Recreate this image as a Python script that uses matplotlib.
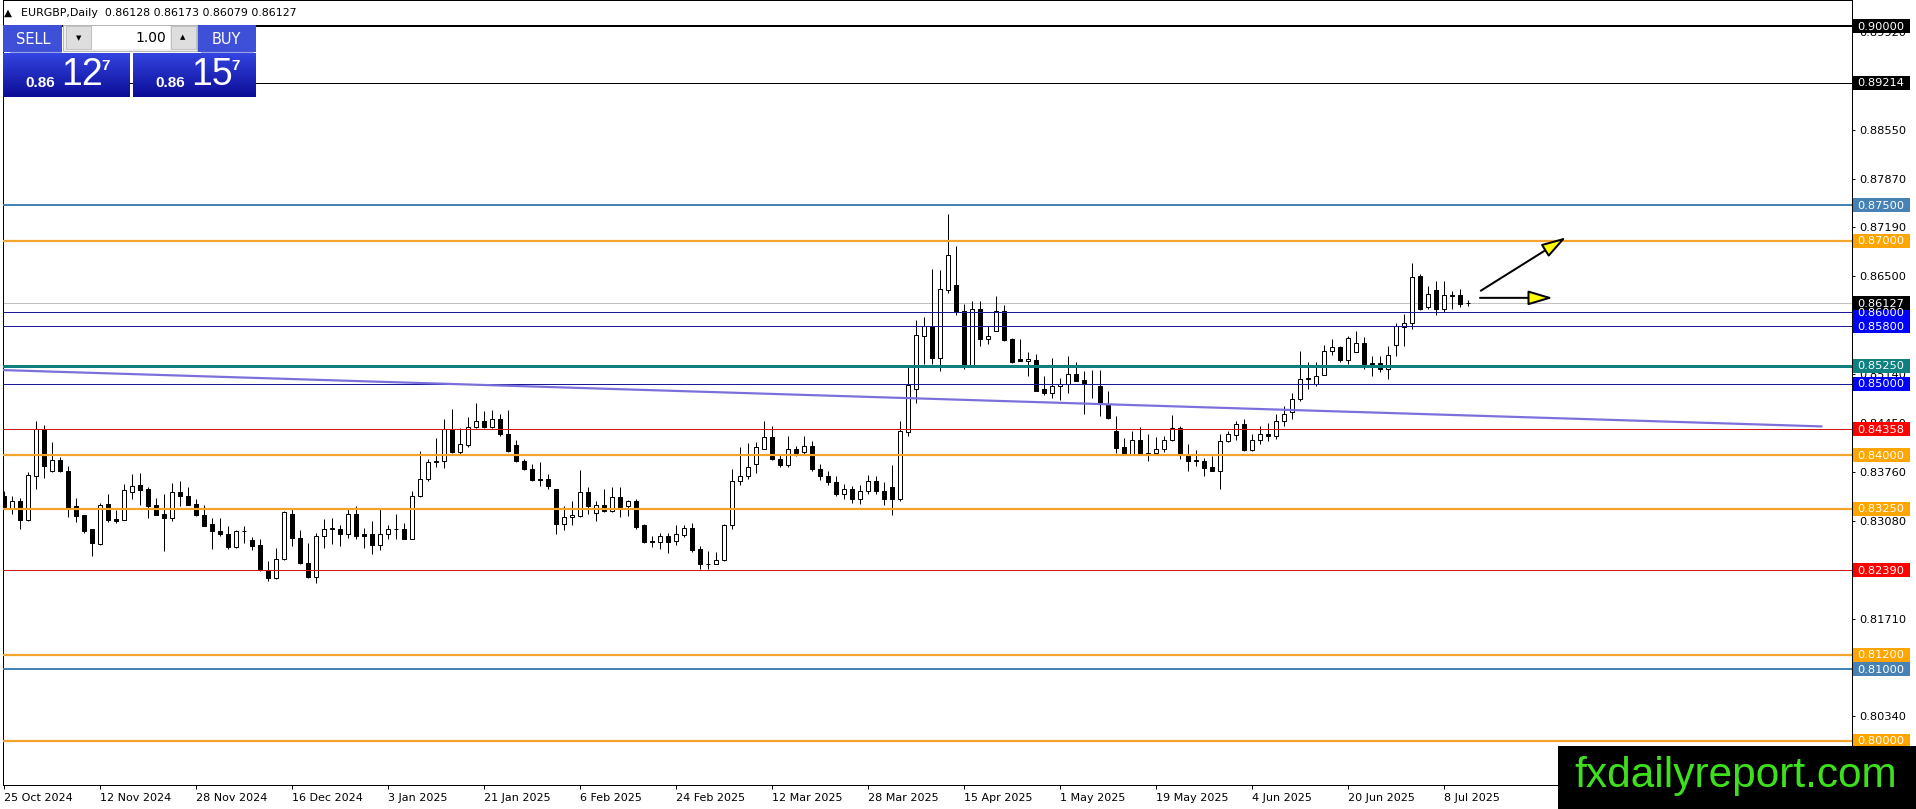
import numpy as np
import matplotlib
matplotlib.use('Agg')
import matplotlib.pyplot as plt
from matplotlib.patches import Rectangle
from matplotlib.colors import LinearSegmentedColormap

plt.rcParams['font.family'] = ['DejaVu Sans']

W, H = 1916, 809

# daily EURGBP candles, 25 Oct 2024 .. 11 Jul 2025
opens = [0.8342, 0.8324, 0.8335, 0.8309, 0.8371, 0.8436, 0.8377, 0.8393, 0.8378, 0.8328,
         0.8316, 0.8296, 0.8275, 0.8331, 0.8310, 0.8309, 0.8348, 0.8358, 0.8352, 0.8330,
         0.8317, 0.8312, 0.8348, 0.8342, 0.8331, 0.8316, 0.8303, 0.8293, 0.8290, 0.8271,
         0.8294, 0.8281, 0.8274, 0.8239, 0.8228, 0.8254, 0.8317, 0.8284, 0.8249, 0.8229,
         0.8286, 0.8296, 0.8297, 0.8290, 0.8317, 0.8289, 0.8289, 0.8274, 0.8290, 0.8296,
         0.8296, 0.8283, 0.8343, 0.8366, 0.8390, 0.8391, 0.8436, 0.8404, 0.8414, 0.8439,
         0.8448, 0.8439, 0.8450, 0.8429, 0.8414, 0.8392, 0.8381, 0.8366, 0.8366, 0.8352,
         0.8304, 0.8313, 0.8315, 0.8348, 0.8319, 0.8330, 0.8322, 0.8341, 0.8328, 0.8335,
         0.8302, 0.8279, 0.8278, 0.8287, 0.8279, 0.8288, 0.8298, 0.8269, 0.8248, 0.8247,
         0.8253, 0.8302, 0.8364, 0.8370, 0.8388, 0.8409, 0.8425, 0.8395, 0.8386, 0.8409,
         0.8404, 0.8413, 0.8381, 0.8370, 0.8362, 0.8346, 0.8352, 0.8338, 0.8350, 0.8364,
         0.8350, 0.8355, 0.8338, 0.8432, 0.8492, 0.8567, 0.8580, 0.8536, 0.8631, 0.8638,
         0.8601, 0.8526, 0.8605, 0.8562, 0.8573, 0.8601, 0.8563, 0.8534, 0.8532, 0.8533,
         0.8492, 0.8487, 0.8496, 0.8500, 0.8514, 0.8505, 0.8500, 0.8497, 0.8472, 0.8433,
         0.8411, 0.8402, 0.8421, 0.8403, 0.8403, 0.8409, 0.8421, 0.8438, 0.8402, 0.8393,
         0.8391, 0.8383, 0.8378, 0.8419, 0.8428, 0.8444, 0.8407, 0.8421, 0.8430, 0.8427,
         0.8448, 0.8460, 0.8478, 0.8508, 0.8500, 0.8512, 0.8545, 0.8551, 0.8533, 0.8544,
         0.8557, 0.8527, 0.8529, 0.8521, 0.8554, 0.8579, 0.8585, 0.8650, 0.8607, 0.8631,
         0.8604, 0.8624, 0.8624, 0.86128]
highs = [0.8349, 0.8342, 0.8340, 0.8376, 0.8447, 0.8442, 0.8418, 0.8397, 0.8384, 0.8340,
         0.8316, 0.8296, 0.8333, 0.8345, 0.8323, 0.8359, 0.8373, 0.8375, 0.8355, 0.8340,
         0.8345, 0.8361, 0.8364, 0.8355, 0.8338, 0.8330, 0.8312, 0.8312, 0.8301, 0.8295,
         0.8301, 0.8285, 0.8282, 0.8252, 0.8270, 0.8321, 0.8325, 0.8295, 0.8277, 0.8291,
         0.8310, 0.8312, 0.8302, 0.8325, 0.8328, 0.8298, 0.8307, 0.8325, 0.8302, 0.8317,
         0.8305, 0.8350, 0.8406, 0.8394, 0.8424, 0.8450, 0.8464, 0.8438, 0.8453, 0.8473,
         0.8462, 0.8463, 0.8458, 0.8463, 0.8421, 0.8395, 0.8388, 0.8390, 0.8373, 0.8352,
         0.8329, 0.8336, 0.8379, 0.8355, 0.8336, 0.8352, 0.8355, 0.8355, 0.8337, 0.8338,
         0.8303, 0.8286, 0.8291, 0.8291, 0.8302, 0.8302, 0.8305, 0.8273, 0.8266, 0.8264,
         0.8303, 0.8380, 0.8411, 0.8417, 0.8418, 0.8448, 0.8441, 0.8400, 0.8427, 0.8412,
         0.8427, 0.8419, 0.8388, 0.8378, 0.8370, 0.8360, 0.8356, 0.8358, 0.8372, 0.8370,
         0.8362, 0.8386, 0.8447, 0.8524, 0.8589, 0.8593, 0.8661, 0.8659, 0.8737, 0.8693,
         0.8612, 0.8615, 0.8615, 0.8581, 0.8622, 0.8610, 0.8564, 0.8563, 0.8544, 0.8542,
         0.8510, 0.8536, 0.8508, 0.8538, 0.8530, 0.8517, 0.8519, 0.8519, 0.8490, 0.8455,
         0.8424, 0.8434, 0.8439, 0.8429, 0.8425, 0.8427, 0.8456, 0.8440, 0.8416, 0.8407,
         0.8396, 0.8398, 0.8429, 0.8433, 0.8448, 0.8450, 0.8429, 0.8440, 0.8445, 0.8458,
         0.8469, 0.8487, 0.8546, 0.8530, 0.8530, 0.8554, 0.8562, 0.8553, 0.8566, 0.8574,
         0.8565, 0.8538, 0.8538, 0.8552, 0.8585, 0.8597, 0.8669, 0.8653, 0.8636, 0.8643,
         0.8643, 0.8630, 0.8632, 0.86173]
lows = [0.8324, 0.8317, 0.8296, 0.8308, 0.8352, 0.8368, 0.8376, 0.8376, 0.8313, 0.8306,
        0.8291, 0.8259, 0.8274, 0.8306, 0.8305, 0.8309, 0.8338, 0.8330, 0.8312, 0.8316,
        0.8266, 0.8307, 0.8329, 0.8330, 0.8314, 0.8301, 0.8269, 0.8286, 0.8268, 0.8270,
        0.8277, 0.8267, 0.8237, 0.8223, 0.8227, 0.8253, 0.8272, 0.8248, 0.8228, 0.8221,
        0.8270, 0.8275, 0.8273, 0.8284, 0.8282, 0.8270, 0.8262, 0.8267, 0.8283, 0.8283,
        0.8282, 0.8282, 0.8341, 0.8363, 0.8383, 0.8382, 0.8403, 0.8400, 0.8411, 0.8438,
        0.8438, 0.8438, 0.8427, 0.8404, 0.8390, 0.8379, 0.8363, 0.8357, 0.8353, 0.8289,
        0.8295, 0.8302, 0.8313, 0.8318, 0.8307, 0.8320, 0.8320, 0.8313, 0.8315, 0.8297,
        0.8277, 0.8271, 0.8269, 0.8263, 0.8274, 0.8285, 0.8264, 0.8240, 0.8240, 0.8247,
        0.8252, 0.8297, 0.8358, 0.8367, 0.8375, 0.8409, 0.8393, 0.8383, 0.8383, 0.8398,
        0.8400, 0.8378, 0.8365, 0.8358, 0.8342, 0.8338, 0.8333, 0.8332, 0.8345, 0.8345,
        0.8330, 0.8316, 0.8335, 0.8427, 0.8473, 0.8527, 0.8528, 0.8517, 0.8627, 0.8596,
        0.8521, 0.8526, 0.8553, 0.8555, 0.8573, 0.8560, 0.8529, 0.8531, 0.8510, 0.8490,
        0.8484, 0.8480, 0.8477, 0.8487, 0.8504, 0.8457, 0.8480, 0.8455, 0.8451, 0.8403,
        0.8401, 0.8401, 0.8401, 0.8391, 0.8402, 0.8404, 0.8420, 0.8395, 0.8377, 0.8385,
        0.8371, 0.8378, 0.8353, 0.8418, 0.8421, 0.8406, 0.8406, 0.8415, 0.8420, 0.8422,
        0.8440, 0.8451, 0.8476, 0.8492, 0.8496, 0.8512, 0.8540, 0.8530, 0.8527, 0.8544,
        0.8520, 0.8511, 0.8516, 0.8507, 0.8539, 0.8552, 0.8576, 0.8603, 0.8604, 0.8596,
        0.8600, 0.8604, 0.8607, 0.86079]
closes = [0.8327, 0.8335, 0.8309, 0.8372, 0.8436, 0.8385, 0.8393, 0.8377, 0.8326, 0.8315,
          0.8294, 0.8277, 0.8330, 0.8309, 0.8308, 0.8351, 0.8356, 0.8351, 0.8329, 0.8316,
          0.8312, 0.8348, 0.8342, 0.8330, 0.8316, 0.8301, 0.8293, 0.8290, 0.8271, 0.8294,
          0.8293, 0.8273, 0.8240, 0.8228, 0.8255, 0.8320, 0.8284, 0.8249, 0.8229, 0.8286,
          0.8296, 0.8298, 0.8290, 0.8317, 0.8287, 0.8287, 0.8274, 0.8290, 0.8297, 0.8297,
          0.8283, 0.8343, 0.8366, 0.8390, 0.8392, 0.8436, 0.8404, 0.8416, 0.8439, 0.8448,
          0.8439, 0.8450, 0.8429, 0.8405, 0.8391, 0.8380, 0.8365, 0.8365, 0.8356, 0.8304,
          0.8313, 0.8316, 0.8348, 0.8328, 0.8330, 0.8321, 0.8341, 0.8327, 0.8335, 0.8299,
          0.8278, 0.8278, 0.8286, 0.8278, 0.8289, 0.8298, 0.8267, 0.8248, 0.8247, 0.8253,
          0.8302, 0.8363, 0.8370, 0.8383, 0.8411, 0.8425, 0.8394, 0.8386, 0.8409, 0.8403,
          0.8413, 0.8381, 0.8370, 0.8362, 0.8346, 0.8352, 0.8338, 0.8350, 0.8364, 0.8350,
          0.8338, 0.8338, 0.8434, 0.8498, 0.8568, 0.8580, 0.8536, 0.8632, 0.8680, 0.8600,
          0.8526, 0.8605, 0.8562, 0.8567, 0.8601, 0.8561, 0.8530, 0.8532, 0.8534, 0.8490,
          0.8487, 0.8496, 0.8500, 0.8514, 0.8504, 0.8499, 0.8499, 0.8471, 0.8452, 0.8410,
          0.8402, 0.8421, 0.8402, 0.8402, 0.8409, 0.8421, 0.8438, 0.8401, 0.8392, 0.8391,
          0.8382, 0.8378, 0.8419, 0.8430, 0.8444, 0.8407, 0.8421, 0.8430, 0.8427, 0.8448,
          0.8458, 0.8478, 0.8507, 0.8507, 0.8511, 0.8546, 0.8551, 0.8533, 0.8564, 0.8557,
          0.8527, 0.8529, 0.8521, 0.8540, 0.8580, 0.8585, 0.8649, 0.8605, 0.8626, 0.8604,
          0.8624, 0.8623, 0.8612, 0.86127]

date_pos = [0, 12, 24, 36, 48, 60, 72, 84, 96, 108, 120, 132, 144, 156, 168, 180]
date_labels = ['25 Oct 2024', '12 Nov 2024', '28 Nov 2024', '16 Dec 2024', '3 Jan 2025',
               '21 Jan 2025', '6 Feb 2025', '24 Feb 2025', '12 Mar 2025', '28 Mar 2025',
               '15 Apr 2025', '1 May 2025', '19 May 2025', '4 Jun 2025', '20 Jun 2025',
               '8 Jul 2025']
price_ticks = [0.89920, 0.89240, 0.88550, 0.87870, 0.87190, 0.86500, 0.85820, 0.85140,
               0.84450, 0.83760, 0.83080, 0.82400, 0.81710, 0.81030, 0.80340]

# horizontal levels drawn on the chart
levels = [0.90000, 0.89214, 0.87500, 0.87000, 0.86000, 0.85800, 0.85250, 0.85000,
          0.84358, 0.84000, 0.83250, 0.82390, 0.81200, 0.81000, 0.80000]
level_kind = ['black', 'black', 'steel', 'orange', 'navy', 'navy', 'teal', 'navy',
              'red', 'orange', 'orange', 'red', 'orange', 'steel', 'orange']
bid_price = 0.86127
ask_price = 0.86157

trend_x = [-0.5, 227.3]
trend_y = [0.8519, 0.8440]
arrow_up = [(184.6, 0.8630), (195.25, 0.87047)]
arrow_flat = [(184.5, 0.8620), (193.6, 0.8620)]

line_style = {  # colour, width(px), label colour
    'black': ('#000000', 1.0, '#000000'),
    'steel': ('#4682b4', 2.0, '#4682b4'),
    'orange': ('#f2a52a', 2.2, '#ffa500'),
    'navy': ('#1a1a9a', 1.0, '#0000ff'),
    'teal': ('#0e7f7f', 3.0, '#0f8080'),
    'red': ('#d01818', 1.0, '#ff0000'),
}
PX = 0.72  # points per pixel at dpi 100

fig = plt.figure(figsize=(W / 100, H / 100), dpi=100)
fig.patch.set_facecolor('white')
ax = fig.add_axes([3 / W, 24 / H, 1849 / W, 785 / H])
ax.set_xlim(-0.125, 231)
ax.set_ylim(0.7938, 0.9037)

o = np.array(opens); h = np.array(highs); l = np.array(lows); c = np.array(closes)
x = np.arange(len(o))
up = c >= o
bottom = np.minimum(o, c)
height = np.maximum(np.abs(c - o), 0.00002)

ax.vlines(x, l, h, color='black', lw=1.0 * PX, zorder=2)
ax.bar(x[up], height[up], bottom=bottom[up], width=0.56, facecolor='white',
       edgecolor='black', linewidth=1.0 * PX, zorder=3)
ax.bar(x[~up], height[~up], bottom=bottom[~up], width=0.56, facecolor='black',
       edgecolor='black', linewidth=1.0 * PX, zorder=3)

# levels
for p, k in zip(levels, level_kind):
    col, w, _ = line_style[k]
    if p == 0.90000:
        w = 2.0
    ax.axhline(p, color=col, lw=w * PX, zorder=4)
ax.axhline(bid_price, color='#c0c0c0', lw=1.0 * PX, zorder=1)
ax.plot(trend_x, trend_y, color='#7b6fdc', lw=2.2 * PX, zorder=4, solid_capstyle='butt')

for (x0, y0), (x1, y1) in [arrow_up, arrow_flat]:
    ax.annotate('', xy=(x1, y1), xytext=(x0, y0),
                arrowprops=dict(arrowstyle='-|>,head_length=1.5,head_width=0.45',
                                fc='#ffff00', ec='black', lw=2.0 * PX,
                                shrinkA=0, shrinkB=0, mutation_scale=10),
                zorder=5)

# axes look
for s in ['left', 'right', 'bottom', 'top']:
    ax.spines[s].set_color('black')
    ax.spines[s].set_linewidth(1.0 * PX)
ax.yaxis.tick_right()
ax.set_yticks(price_ticks, [f'{t:.5f}' for t in price_ticks])
ax.tick_params(axis='y', direction='out', length=2.5, width=0.7, pad=3,
               labelsize=8.2, colors='black')
ax.set_xticks(date_pos, date_labels, ha='left')
ax.tick_params(axis='x', direction='out', length=3, width=0.7, pad=3,
               labelsize=8, colors='black')

# overlay in pixel coordinates for labels, panel and watermark
ov = fig.add_axes([0, 0, 1, 1], zorder=5)
ov.set_xlim(0, W)
ov.set_ylim(H, 0)
ov.axis('off')
ov.patch.set_visible(False)


def py(p):
    return H - ax.transData.transform((0, p))[1]


for p, k in zip(levels, level_kind):
    lab = line_style[k][2]
    y = py(p)
    ov.add_patch(Rectangle((1853, y - 7), 57, 14, fc=lab, ec='none', zorder=3))
    ov.text(1857, y + 0.5, f'{p:.5f}', color='white', fontsize=8.2,
            ha='left', va='center', zorder=4)
y = py(bid_price)
ov.add_patch(Rectangle((1853, y - 7), 57, 14, fc='black', ec='none', zorder=3))
ov.text(1857, y + 0.5, f'{bid_price:.5f}', color='white', fontsize=8.2,
        ha='left', va='center', zorder=4)

# header
ov.text(4, 13, '▲', fontsize=7.5, ha='left', va='center')
ov.text(21, 13, f'EURGBP,Daily  {opens[-1]:.5f} {highs[-1]:.5f} {lows[-1]:.5f} {closes[-1]:.5f}',
        fontsize=7.9, ha='left', va='center')

# one-click trading panel
btn = '#3f50d8'
ov.add_patch(Rectangle((3, 25), 59, 27, fc=btn, ec='none', zorder=3))
ov.add_patch(Rectangle((197, 25), 59, 27, fc=btn, ec='none', zorder=3))
ov.add_patch(Rectangle((63, 25), 134, 26, fc='#eeeeee', ec='#b8b8b8', lw=0.7, zorder=3))
ov.add_patch(Rectangle((66, 26), 25, 23, fc='#dedede', ec='#c0c0c0', lw=0.7, zorder=3))
ov.add_patch(Rectangle((92, 26), 78, 23, fc='white', ec='none', zorder=3))
ov.add_patch(Rectangle((171, 26), 25, 23, fc='#dedede', ec='#c0c0c0', lw=0.7, zorder=3))
ov.plot([10, 61], [51.5, 51.5], color='#9aa2e8', lw=0.8, zorder=4)
ov.plot([201, 253], [51.5, 51.5], color='#9aa2e8', lw=0.8, zorder=4)
grad_cmap = LinearSegmentedColormap.from_list('g', ['#3344e0', '#0c0d96'])
grad = np.linspace(0, 1, 60).reshape(-1, 1)
for x0, x1 in [(3, 130), (133, 256)]:
    ov.imshow(grad, extent=(x0, x1, 97, 53), cmap=grad_cmap, aspect='auto', zorder=3)
ov.set_xlim(0, W)
ov.set_ylim(H, 0)

ov.text(33, 39, 'SELL', color='white', fontsize=10.5, ha='center', va='center', zorder=5)
ov.text(226, 39, 'BUY', color='white', fontsize=10.5, ha='center', va='center', zorder=5)
ov.text(166, 38, '1.00', color='black', fontsize=10, ha='right', va='center', zorder=5)
ov.text(79, 38, '▼', color='black', fontsize=5, ha='center', va='center', zorder=5)
ov.text(183, 37, '▲', color='black', fontsize=5, ha='center', va='center', zorder=5)
for price, xc in [(bid_price, 3), (ask_price, 133)]:
    s = f'{price:.5f}'
    ov.text(xc + 37, 83, s[:4], color='white', fontsize=11, fontweight='bold',
            family='Liberation Sans', ha='center', va='center', zorder=5)
    ov.text(xc + 79, 75, s[4:6], color='white', fontsize=27,
            family='Liberation Sans', ha='center', va='center', zorder=5)
    ov.text(xc + 103, 66, s[6], color='white', fontsize=11, fontweight='bold',
            family='Liberation Sans', ha='center', va='center', zorder=5)

# watermark
ov.add_patch(Rectangle((1558, 746), 358, 63, fc='black', ec='none', zorder=6))
ov.text(1736, 787, 'fxdailyreport.com', color='#3ee01e', fontsize=30.5,
        family='Liberation Sans', ha='center', va='baseline', zorder=7)

fig.savefig('out.png', dpi=100, facecolor='white')
